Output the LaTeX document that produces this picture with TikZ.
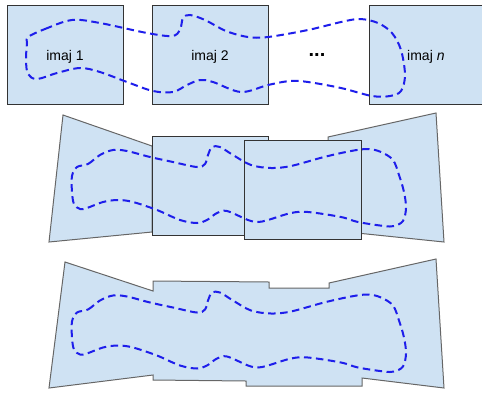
\documentclass[tikz,border=0pt]{standalone}
\usepackage{fontspec}
\setmainfont{Liberation Sans}
\definecolor{fillb}{HTML}{CFE2F3}
\definecolor{edgeD}{HTML}{333333}
\definecolor{edgeG}{HTML}{666666}
\definecolor{curveB}{RGB}{30,30,235}
\begin{document}
\begin{tikzpicture}[x=1pt,y=-1pt,
  imgbox/.style={fill=fillb,draw=edgeD,line width=1pt},
  warpbox/.style={fill=fillb,draw=edgeG,line width=1pt,line join=miter},
  outline/.style={draw=curveB,line width=2pt,dash pattern=on 7.5pt off 4.5pt},
  lbl/.style={font=\fontsize{14}{16}\selectfont,inner sep=0pt}]
\useasboundingbox (0,0) rectangle (482,392);
% ---- top row ----
\draw[imgbox] (7,5) rectangle (123,104);
\draw[imgbox] (152,5) rectangle (268,104);
\draw[imgbox] (369,5) rectangle (482,104);
\node[lbl] (l1) at (65,57) {imaj 1};
\node[lbl] (l2) at (210,57) {imaj 2};
\node[lbl,anchor=west] (ln) at (407,57) {imaj \textit{n}};
\node[lbl,font=\fontsize{20}{22}\selectfont\bfseries] (dots) at (317,55) {...};
\draw[outline] plot[smooth cycle,tension=0.55] coordinates {
 (28,37) (45,29) (72,20) (100,23) (147,33) (172,36) (180,30) (183,18) (190,15)
 (205,20) (226,31) (248,37) (268,37) (308,30) (341,22) (360,19) (378,23) (392,33)
 (401,50) (405,75) (401,91) (390,96) (372,96) (341,88) (308,82) (290,81) (268,85)
 (241,92) (213,82) (200,80) (187,85) (173,92) (153,91) (127,82) (100,72) (80,68)
 (57,73) (37,79) (28,74) (26,60) (27,43)};
% ---- middle row ----
\draw[warpbox] (63,115) -- (152,146) -- (152,232) -- (49,242) -- cycle;
\draw[imgbox] (152,136) rectangle (268,235);
\draw[warpbox] (328,137) -- (436,113) -- (444,242) -- (328,230) -- cycle;
\draw[imgbox] (244,140) rectangle (361,239);
\draw[outline] plot[smooth cycle,tension=0.55] coordinates {
 (77,167) (88,164) (100,155) (113,150) (127,151) (150,157) (173,162) (197,167)
 (205,164) (208,155) (212,147) (220,147) (233,155) (251,165) (271,168) (291,166)
 (324,157) (351,151) (368,149) (381,152) (393,160) (399,175) (404,192) (406,208)
 (403,221) (394,226) (384,226) (358,222) (341,217) (308,212) (291,213) (268,220)
 (258,222) (248,220) (227,211) (217,213) (207,220) (197,223) (180,220) (157,210)
 (133,202) (118,200) (103,202) (87,208) (80,209) (74,204) (72,192) (72,176)};
% ---- bottom row ----
\draw[warpbox] (65,262) -- (153,291) -- (153,281) -- (269,282) -- (269,288)
  -- (329,288) -- (329,283) -- (436,259) -- (444,388) -- (362,378) -- (362,386)
  -- (246,386) -- (246,381) -- (153,380) -- (153,375) -- (49,388) -- cycle;
\draw[outline,yshift=-145.5pt] plot[smooth cycle,tension=0.55] coordinates {
 (77,167) (88,164) (100,155) (113,150) (127,151) (150,157) (173,162) (197,167)
 (205,164) (208,155) (212,147) (220,147) (233,155) (251,165) (271,168) (291,166)
 (324,157) (351,151) (368,149) (381,152) (393,160) (399,175) (404,192) (406,208)
 (403,221) (394,226) (384,226) (358,222) (341,217) (308,212) (291,213) (268,220)
 (258,222) (248,220) (227,211) (217,213) (207,220) (197,223) (180,220) (157,210)
 (133,202) (118,200) (103,202) (87,208) (80,209) (74,204) (72,192) (72,176)};
\end{tikzpicture}
\end{document}
